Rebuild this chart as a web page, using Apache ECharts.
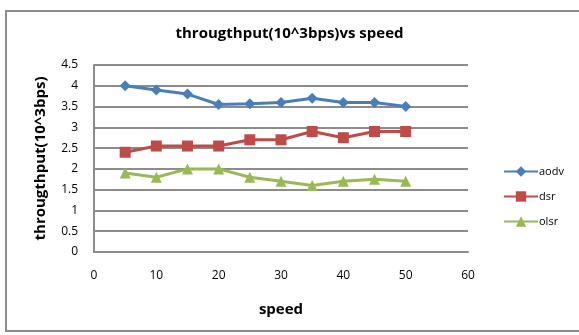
<!DOCTYPE html>
<html><head><meta charset="utf-8">
<script src="https://cdn.jsdelivr.net/npm/echarts@6/dist/echarts.min.js"></script>
<style>html,body{margin:0;padding:0;background:#fff}#c{width:579px;height:335px}</style>
</head><body><div id="c"></div>
<script>
const speeds = [5, 10, 15, 20, 25, 30, 35, 40, 45, 50];
const aodv = [4.0, 3.9, 3.8, 3.55, 3.57, 3.6, 3.7, 3.6, 3.6, 3.5];
const dsr = [2.4, 2.55, 2.55, 2.55, 2.7, 2.7, 2.9, 2.75, 2.9, 2.9];
const olsr = [1.9, 1.8, 2.0, 2.0, 1.8, 1.7, 1.6, 1.7, 1.75, 1.7];
const seriesNames = ['aodv', 'dsr', 'olsr'];
const titleText = 'througthput(10^3bps)vs speed';
const yName = 'througthput(10^3bps)';
const xName = 'speed';

const font = '"Open Sans", "Liberation Sans", sans-serif';
const colors = ['#4A7EBB', '#BE4B48', '#98B954'];
const symbols = ['diamond', 'rect', 'triangle'];
const sizes = [11, 11, 11];
const datas = [aodv, dsr, olsr];

const chart = echarts.init(document.getElementById('c'), null, {renderer: 'canvas'});
chart.setOption({
  animation: false,
  backgroundColor: '#fff',
  graphic: [{
    type: 'rect', left: 5, top: 10, z: -10,
    shape: {width: 580, height: 320},
    style: {fill: '#fff', stroke: '#8c8c8c', lineWidth: 2}
  }],
  title: {
    text: titleText, left: 'center', top: 21,
    textStyle: {fontFamily: font, fontSize: 15, fontWeight: 'bold', color: '#000'}
  },
  legend: {
    orient: 'vertical', left: 498, top: 161, itemGap: 14,
    itemWidth: 34, itemHeight: 13,
    textStyle: {fontFamily: font, fontSize: 11, color: '#000', padding: [0,0,0,-4]},
    data: seriesNames
  },
  grid: {left: 94, right: 111, top: 65, bottom: 83},
  xAxis: {
    type: 'value', min: 0, max: 60, interval: 10,
    name: xName, nameLocation: 'middle', nameGap: 50,
    nameTextStyle: {fontFamily: font, fontSize: 15, fontWeight: 'bold', color: '#000'},
    axisLine: {show: true, lineStyle: {color: '#8c8c8c', width: 2}},
    axisTick: {show: false},
    axisLabel: {fontFamily: font, fontSize: 12, color: '#000', margin: 18},
    splitLine: {show: false}
  },
  yAxis: {
    type: 'value', min: 0, max: 4.5, interval: 0.5,
    name: yName, nameLocation: 'middle', nameGap: 46,
    nameTextStyle: {fontFamily: font, fontSize: 15, fontWeight: 'bold', color: '#000'},
    axisLine: {show: true, lineStyle: {color: '#8c8c8c', width: 2}},
    axisTick: {show: false},
    axisLabel: {fontFamily: font, fontSize: 12, color: '#000', margin: 16},
    splitLine: {show: true, lineStyle: {color: '#8c8c8c', width: 2}}
  },
  series: seriesNames.map((n, i) => ({
    name: n, type: 'line',
    data: speeds.map((s, j) => [s, datas[i][j]]),
    symbol: symbols[i], symbolSize: sizes[i],
    lineStyle: {color: colors[i], width: 3},
    itemStyle: {color: colors[i]}
  }))
});
</script></body></html>
